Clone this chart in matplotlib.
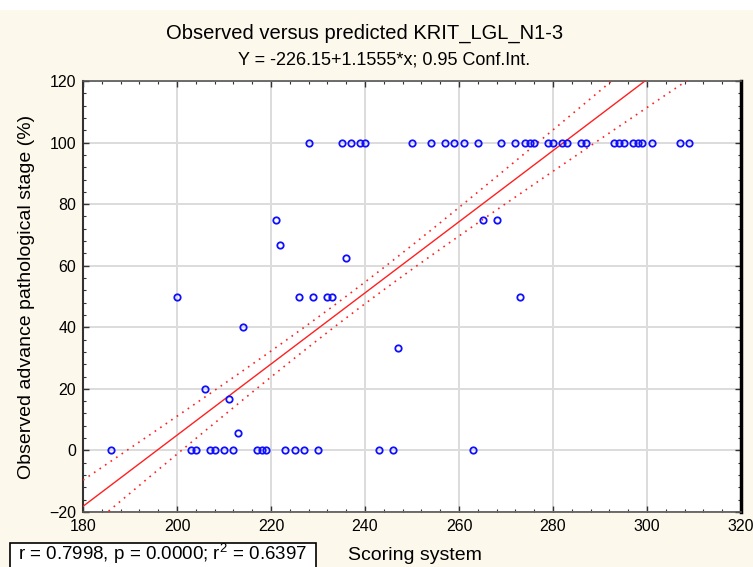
import numpy as np
import matplotlib
matplotlib.use('Agg')
import matplotlib.pyplot as plt
from matplotlib.ticker import MultipleLocator
from matplotlib.patches import Rectangle

# scoring system value (x) and observed advanced stage % (y)
x_100 = [228, 235, 237, 239, 240, 250, 254, 257, 259, 261, 264, 269, 272, 274, 275,
         276, 279, 280, 282, 283, 286, 287, 293, 294, 295, 297, 298, 299, 301, 307, 309]
x_0 = [186, 203, 204, 207, 208, 210, 212, 217, 218, 219, 223, 225, 227, 230, 243, 246, 263]
x_50 = [200, 226, 229, 232, 233, 273]
x_other = [221, 222, 265, 268, 236, 214, 247, 206, 211, 213]
y_other = [75, 66.7, 75, 75, 62.5, 40, 33.3, 20, 16.7, 5.6]

# regression line and its 0.95 confidence band
intercept = -226.15
slope = 1.1555
ci_xmean = 237.5      # x where the band is narrowest
ci_half_mid = 3.5     # half width there
ci_half_180 = 8.5     # half width at x = 180

title = 'Observed versus predicted KRIT_LGL_N1-3'
subtitle = 'Y = -226.15+1.1555*x; 0.95 Conf.Int.'
stats_text = 'r = 0.7998, p = 0.0000; r$^{2}$ = 0.6397'

x = np.array(x_100 + x_0 + x_50 + x_other, dtype=float)
y = np.array([100] * len(x_100) + [0] * len(x_0) + [50] * len(x_50) + y_other, dtype=float)

plt.rcParams['font.family'] = ['Liberation Sans', 'DejaVu Sans']
plt.rcParams['mathtext.fontset'] = 'custom'
plt.rcParams['mathtext.rm'] = 'Liberation Sans'

bg = '#FDF8EC'
W, H = 753, 567
fig = plt.figure(figsize=(W / 100, H / 100), dpi=100)
fig.patch.set_facecolor(bg)
fig.patches.append(Rectangle((0, 1 - 10 / H), 1, 10 / H, transform=fig.transFigure,
                             facecolor='white', edgecolor='none', zorder=0))
ax = fig.add_axes([83 / W, 1 - 512 / H, (741 - 83) / W, (512 - 81) / H])
ax.set_facecolor('white')

xs = np.linspace(180, 320, 300)
fit = intercept + slope * xs
# regression CI: half^2 = a + b*(x - xmean)^2
b = (ci_half_180 ** 2 - ci_half_mid ** 2) / (180 - ci_xmean) ** 2
half = np.sqrt(ci_half_mid ** 2 + b * (xs - ci_xmean) ** 2)

ax.plot(xs, fit, color='#FF2020', lw=1.0, zorder=3)
ax.plot(xs, fit + half, color='#FF2020', lw=1.2, ls=(0, (1, 3)), zorder=3)
ax.plot(xs, fit - half, color='#FF2020', lw=1.2, ls=(0, (1, 3)), zorder=3)

ax.plot(x, y, 'o', mfc='none', mec='#1010FF', ms=4.6, mew=1.3, zorder=4)

ax.set_xlim(180, 320)
ax.set_ylim(-20, 120)
ax.xaxis.set_major_locator(MultipleLocator(20))
ax.xaxis.set_minor_locator(MultipleLocator(4))
ax.yaxis.set_major_locator(MultipleLocator(20))
ax.yaxis.set_minor_locator(MultipleLocator(4))
ax.grid(True, which='major', color='#DCDCDC', lw=1.4, zorder=0)
ax.set_axisbelow(True)
ax.tick_params(which='both', direction='in', top=True, right=True, colors='#333333',
               labelcolor='black', labelsize=11.5)
ax.tick_params(which='major', length=4, width=1)
ax.tick_params(which='minor', length=2.5, width=0.8)
ax.tick_params(axis='x', pad=5)
ax.tick_params(axis='y', pad=5)
for side in ['top', 'bottom']:
    ax.spines[side].set_color('#555555')
    ax.spines[side].set_linewidth(1.2)
ax.spines['left'].set_color('#333333')
ax.spines['left'].set_linewidth(1.5)
ax.spines['right'].set_color('black')
ax.spines['right'].set_linewidth(2.5)

fig.text(27 / W, 1 - 296.5 / H, 'Observed advance pathological stage (%)', rotation=90,
         ha='center', va='center', fontsize=14)

fig.text(364.5 / W, 1 - 33 / H, title, ha='center', va='center', fontsize=14.5)
fig.text(384.5 / W, 1 - 60 / H, subtitle, ha='center', va='center', fontsize=13)
fig.text(348 / W, 1 - 555 / H, 'Scoring system', ha='left', va='center', fontsize=14)

fig.patches.append(Rectangle((10 / W, -0.01), (316 - 10) / W, 0.01 + 1 - 543 / H,
                             transform=fig.transFigure, facecolor='white',
                             edgecolor='black', lw=1.2, zorder=1))
fig.text(163 / W, 1 - 554 / H, stats_text, ha='center', va='center', fontsize=13.5)

fig.savefig('out.png', dpi=100, facecolor=fig.get_facecolor())
